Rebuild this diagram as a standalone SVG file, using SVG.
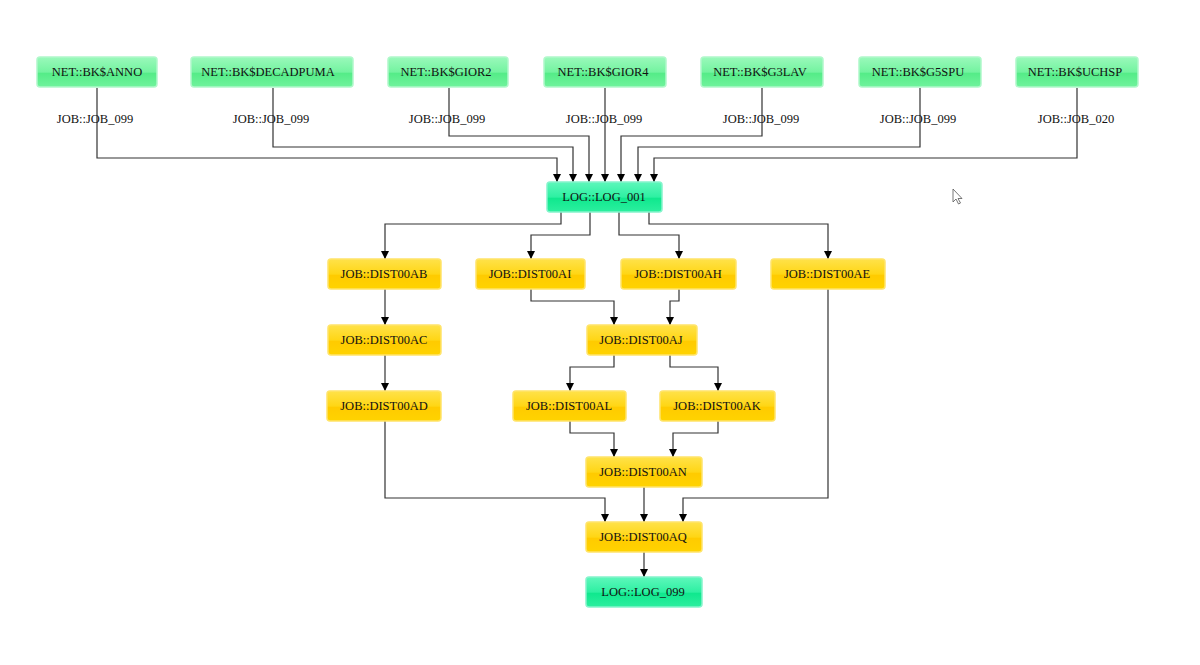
<svg xmlns="http://www.w3.org/2000/svg" width="1200" height="665" viewBox="0 0 1200 665" font-family="'Liberation Serif', 'Times New Roman', serif">
<defs>
<linearGradient id="gNet" x1="0" y1="0" x2="0" y2="1">
<stop offset="0" stop-color="#9af9bb"/><stop offset="0.5" stop-color="#74f3a0"/><stop offset="0.55" stop-color="#55ec88"/><stop offset="1" stop-color="#70f39c"/>
</linearGradient>
<linearGradient id="gLog" x1="0" y1="0" x2="0" y2="1">
<stop offset="0" stop-color="#5ef7bb"/><stop offset="0.5" stop-color="#2ef0a2"/><stop offset="0.55" stop-color="#10e88e"/><stop offset="1" stop-color="#2cef9f"/>
</linearGradient>
<linearGradient id="gJob" x1="0" y1="0" x2="0" y2="1">
<stop offset="0" stop-color="#ffe24a"/><stop offset="0.5" stop-color="#ffd615"/><stop offset="0.55" stop-color="#ffcb00"/><stop offset="1" stop-color="#ffd300"/>
</linearGradient>
<marker id="arr" viewBox="0 0 10 10" refX="10" refY="5" markerWidth="8" markerHeight="8" markerUnits="userSpaceOnUse" orient="auto">
<path d="M0,0 L10,5 L0,10 z" fill="#000"/>
</marker>
</defs>
<style>
.net rect{fill:url(#gNet);stroke:#b0f8ca;stroke-width:1.5}
.log rect{fill:url(#gLog);stroke:#85f4cc;stroke-width:1.5}
.job rect{fill:url(#gJob);stroke:#ffe46a;stroke-width:1.5}
text{font-family:'Liberation Serif','Times New Roman',serif;font-size:12.5px;fill:#111;text-anchor:middle}
#connectors path{fill:none;stroke:#333;stroke-width:1.2}
#connectors path.a{marker-end:url(#arr)}
</style>
<rect width="1200" height="665" fill="#fff"/>
<g id="connectors">
<path class="a" d="M97,88 V158 H557 V182"/>
<path class="a" d="M273,88 V147 H573 V182"/>
<path class="a" d="M449,88 V136 H589 V182"/>
<path class="a" d="M605,88 V182"/>
<path class="a" d="M762,88 V136 H621 V182"/>
<path class="a" d="M920,88 V147 H638 V182"/>
<path class="a" d="M1077,88 V158 H654 V182"/>
<path class="a" d="M561,212 V224 H385 V259"/>
<path class="a" d="M590,212 V235 H531 V259"/>
<path class="a" d="M619,212 V235 H679 V259"/>
<path class="a" d="M649,212 V224 H828 V259"/>
<path class="a" d="M385,289 V325"/>
<path class="a" d="M385,355 V391"/>
<path class="a" d="M531,289 V301 H614 V325"/>
<path class="a" d="M679,289 V301 H670 V325"/>
<path class="a" d="M614,355 V367 H570 V391"/>
<path class="a" d="M670,355 V367 H718 V391"/>
<path class="a" d="M570,421 V433 H614 V457"/>
<path class="a" d="M718,421 V433 H673 V457"/>
<path class="a" d="M385,421 V498 H605 V522"/>
<path class="a" d="M644,487 V522"/>
<path class="a" d="M828,289 V498 H683 V522"/>
<path class="a" d="M644,552 V577"/>
</g>
<g id="lbl">
<text x="95" y="123">JOB::JOB_099</text>
<text x="271" y="123">JOB::JOB_099</text>
<text x="447" y="123">JOB::JOB_099</text>
<text x="604" y="123">JOB::JOB_099</text>
<text x="761" y="123">JOB::JOB_099</text>
<text x="918" y="123">JOB::JOB_099</text>
<text x="1076" y="123">JOB::JOB_020</text>
</g>
<g id="n_anno" class="net"><rect x="37" y="57" width="120" height="30" rx="3"/><text x="97" y="76">NET::BK$ANNO</text></g>
<g id="n_decadpuma" class="net"><rect x="191" y="57" width="162" height="30" rx="3"/><text x="268" y="76">NET::BK$DECADPUMA</text></g>
<g id="n_gior2" class="net"><rect x="388" y="57" width="120" height="30" rx="3"/><text x="446" y="76">NET::BK$GIOR2</text></g>
<g id="n_gior4" class="net"><rect x="544" y="57" width="122" height="30" rx="3"/><text x="603" y="76">NET::BK$GIOR4</text></g>
<g id="n_g3lav" class="net"><rect x="701" y="57" width="122" height="30" rx="3"/><text x="760" y="76">NET::BK$G3LAV</text></g>
<g id="n_g5spu" class="net"><rect x="859" y="57" width="122" height="30" rx="3"/><text x="918" y="76">NET::BK$G5SPU</text></g>
<g id="n_uchsp" class="net"><rect x="1016" y="57" width="122" height="30" rx="3"/><text x="1075" y="76">NET::BK$UCHSP</text></g>
<g id="n_log001" class="log"><rect x="547" y="182" width="115" height="30" rx="3"/><text x="604" y="201">LOG::LOG_001</text></g>
<g id="n_ab" class="job"><rect x="328" y="259" width="113" height="30" rx="3"/><text x="384" y="278">JOB::DIST00AB</text></g>
<g id="n_ai" class="job"><rect x="476" y="259" width="109" height="30" rx="3"/><text x="530" y="278">JOB::DIST00AI</text></g>
<g id="n_ah" class="job"><rect x="621" y="259" width="115" height="30" rx="3"/><text x="678" y="278">JOB::DIST00AH</text></g>
<g id="n_ae" class="job"><rect x="771" y="259" width="114" height="30" rx="3"/><text x="827" y="278">JOB::DIST00AE</text></g>
<g id="n_ac" class="job"><rect x="328" y="325" width="113" height="30" rx="3"/><text x="384" y="344">JOB::DIST00AC</text></g>
<g id="n_aj" class="job"><rect x="587" y="325" width="110" height="30" rx="3"/><text x="641" y="344">JOB::DIST00AJ</text></g>
<g id="n_ad" class="job"><rect x="327" y="391" width="114" height="30" rx="3"/><text x="384" y="410">JOB::DIST00AD</text></g>
<g id="n_al" class="job"><rect x="513" y="391" width="113" height="30" rx="3"/><text x="569" y="410">JOB::DIST00AL</text></g>
<g id="n_ak" class="job"><rect x="660" y="391" width="115" height="30" rx="3"/><text x="717" y="410">JOB::DIST00AK</text></g>
<g id="n_an" class="job"><rect x="586" y="457" width="116" height="30" rx="3"/><text x="643" y="476">JOB::DIST00AN</text></g>
<g id="n_aq" class="job"><rect x="586" y="522" width="116" height="30" rx="3"/><text x="643" y="541">JOB::DIST00AQ</text></g>
<g id="n_log099" class="log"><rect x="586" y="577" width="116" height="30" rx="3"/><text x="643" y="596">LOG::LOG_099</text></g>
<path d="M953,189 V202 L956,199 L958.5,204 L960.5,203 L958,198.5 L962,198.5 Z" fill="#fff" stroke="#555" stroke-width="0.8"/>
</svg>
